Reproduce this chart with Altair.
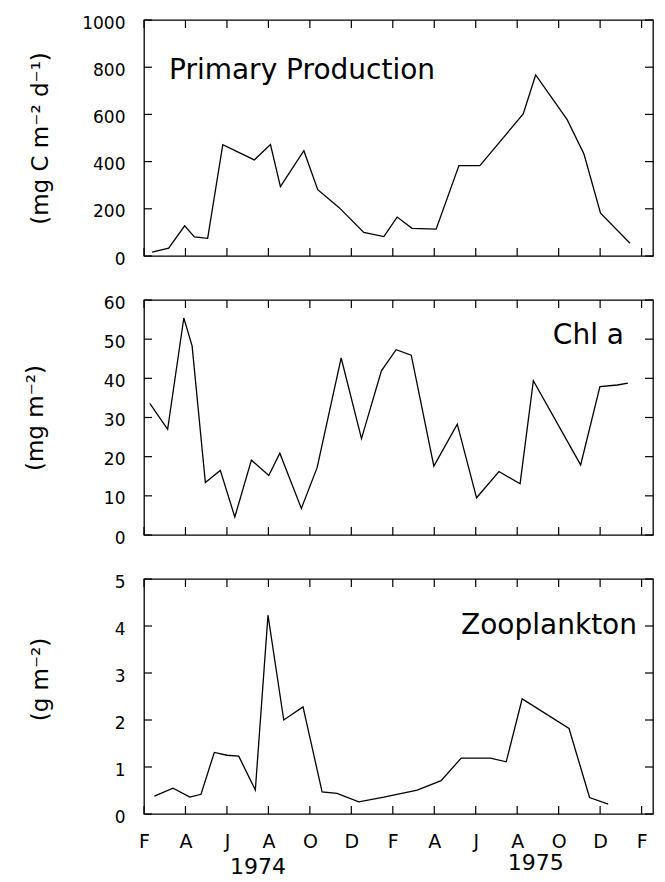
import altair as alt
import pandas as pd

# ---- data (months since 1 Feb 1974) ----
month_labels = ["F", "A", "J", "A", "O", "D", "F", "A", "J", "A", "O", "D", "F"]
month_ticks = list(range(0, 25, 2))

pp_month = [0.39, 1.19, 1.96, 2.43, 3.07, 3.80, 5.32, 6.10, 6.58, 7.71, 8.38, 9.40, 10.60,
            11.57, 12.21, 12.93, 14.09, 15.19, 16.20, 18.29, 18.89, 20.41, 21.22, 22.02, 23.44]
pp_value = [16, 33, 128, 81, 75, 472, 407, 472, 294, 446, 281, 206, 100,
            82, 165, 117, 114, 383, 383, 602, 767, 578, 432, 181, 54]

chl_month = [0.28, 1.14, 1.92, 2.32, 2.96, 3.68, 4.38, 5.18, 6.02, 6.55, 7.59, 8.35, 9.51, 10.49,
             11.45, 12.16, 12.89, 13.98, 15.11, 16.04, 17.12, 18.14, 18.78, 21.06, 21.99, 22.83, 23.34]
chl_value = [33.6, 27.0, 55.4, 48.3, 13.4, 16.5, 4.6, 19.1, 15.2, 20.9, 6.8, 17.2, 45.2, 24.6,
             41.9, 47.3, 45.9, 17.6, 28.3, 9.5, 16.2, 13.1, 39.4, 17.9, 37.9, 38.3, 38.8]

zoo_month = [0.50, 1.40, 2.21, 2.75, 3.39, 4.01, 4.57, 5.37, 5.98, 6.74, 7.67, 8.59, 9.31, 10.36,
             11.57, 13.18, 14.33, 15.30, 16.71, 17.47, 18.24, 20.50, 21.49, 22.39]
zoo_value = [0.38, 0.55, 0.36, 0.42, 1.31, 1.25, 1.23, 0.51, 4.23, 2.0, 2.28, 0.47, 0.44, 0.26,
             0.36, 0.51, 0.71, 1.19, 1.19, 1.11, 2.45, 1.82, 0.35, 0.21]

pp_ticks = [0, 200, 400, 600, 800, 1000]
chl_ticks = [0, 10, 20, 30, 40, 50, 60]
zoo_ticks = [0, 1, 2, 3, 4, 5]

year_labels = ["1974", "1975"]
year_month = [5.5, 18.9]

FONT = "DejaVu Sans"
W = 509
XMAX = 24.55
TICK = 8
label_expr = "[" + ",".join("'%s'" % s for s in month_labels) + "][datum.value / 2]"


def panel(months, values, ymax, yticks, ytitle, title_x, title_y, text, tx, ty, talign,
          height, bottom_labels=False, years=False):
    df = pd.DataFrame({"m": months, "v": values})
    xs = alt.Scale(domain=[0, XMAX], nice=False, zero=False)
    ys = alt.Scale(domain=[0, ymax], nice=False)
    bottom_axis = alt.Axis(orient="bottom", values=month_ticks, labels=bottom_labels,
                           labelExpr=label_expr, ticks=False, tickSize=0, domain=False,
                           grid=False, title=None, labelPadding=18, labelFontSize=19,
                           labelFont=FONT, labelColor="black", labelFlush=False)
    left_axis = alt.Axis(orient="left", values=yticks, format="d", ticks=False, tickSize=0,
                         domain=False, grid=False, labelPadding=19, labelFontSize=17,
                         labelFont=FONT, labelColor="black", labelOffset=3, title=ytitle,
                         titleX=title_x, titleY=title_y, titleFont=FONT, titleFontSize=23,
                         titleFontWeight="normal", titleColor="black")
    line = alt.Chart(df).mark_line(color="black", strokeWidth=1.3).encode(
        x=alt.X("m:Q", scale=xs, axis=bottom_axis),
        y=alt.Y("v:Q", scale=ys, axis=left_axis),
    )
    xt = pd.DataFrame({"t": month_ticks})
    yt = pd.DataFrame({"t": yticks})
    rule = dict(color="black", strokeWidth=1.2)
    tick_layers = [
        alt.Chart(yt).mark_rule(**rule).encode(
            y=alt.Y("t:Q", scale=ys, axis=None), x=alt.value(0), x2=alt.value(TICK)),
        alt.Chart(yt).mark_rule(**rule).encode(
            y=alt.Y("t:Q", scale=ys, axis=None), x=alt.value(W - TICK), x2=alt.value(W)),
        alt.Chart(xt).mark_rule(**rule).encode(
            x=alt.X("t:Q", scale=xs, axis=None), y=alt.value(height - TICK),
            y2=alt.value(height)),
        alt.Chart(xt).mark_rule(**rule).encode(
            x=alt.X("t:Q", scale=xs, axis=None), y=alt.value(0), y2=alt.value(TICK)),
    ]
    lab = alt.Chart(pd.DataFrame({"t": [text]})).mark_text(
        font=FONT, fontSize=28, align=talign, baseline="alphabetic", color="black"
    ).encode(x=alt.value(tx), y=alt.value(ty), text="t:N")
    layers = [line] + tick_layers + [lab]
    if years:
        for name, mm, yy in zip(year_labels, year_month, [295, 291]):
            ydf = pd.DataFrame({"t": [name], "m": [mm]})
            layers.append(
                alt.Chart(ydf).mark_text(font=FONT, fontSize=22, align="center",
                                         baseline="alphabetic", color="black").encode(
                    x=alt.X("m:Q", scale=xs, axis=None), y=alt.value(yy), text="t:N")
            )
    return alt.layer(*layers).resolve_axis(x="independent", y="independent").properties(
        width=W, height=height)


p1 = panel(pp_month, pp_value, 1000, pp_ticks, "(mg C m\u207b\u00b2 d\u207b\u00b9)", -92, 118,
           "Primary Production", 25, 59, "left", 236)
p2 = panel(chl_month, chl_value, 60, chl_ticks, "(mg m\u207b\u00b2)", -97, 117.5,
           "Chl a", 480, 44, "right", 235)
p3 = panel(zoo_month, zoo_value, 5, zoo_ticks, "(g m\u207b\u00b2)", -92, 100,
           "Zooplankton", 493, 55, "right", 235, bottom_labels=True, years=True)

chart = alt.vconcat(p1, p2, p3, spacing=44, bounds="flush").properties(
    padding={"left": 15, "top": 5, "right": 0, "bottom": 0}
).configure(font=FONT, view=alt.ViewConfig(stroke="black", strokeWidth=1.3))

chart.save("out.html", embed_options={"renderer": "svg", "actions": False})
